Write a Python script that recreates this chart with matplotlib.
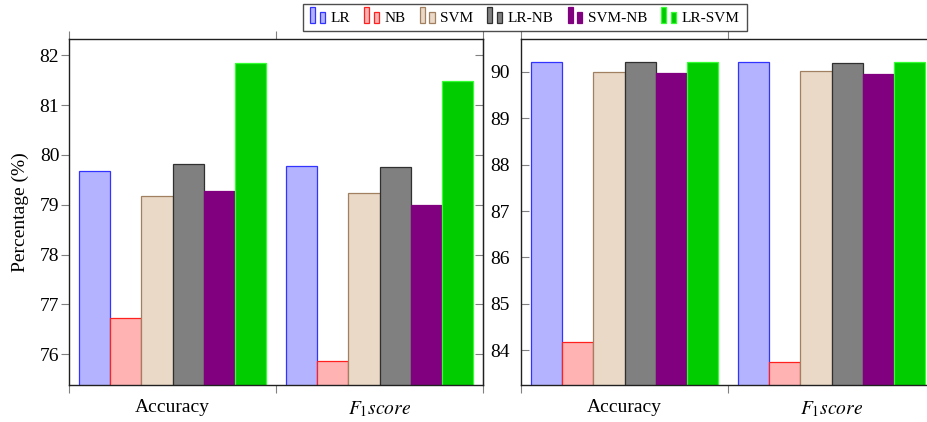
import numpy as np
import matplotlib
matplotlib.use('Agg')
import matplotlib.pyplot as plt
from matplotlib.patches import Rectangle
from matplotlib.legend_handler import HandlerBase

plt.rcParams['font.family'] = ['Liberation Serif', 'DejaVu Serif']
plt.rcParams['mathtext.fontset'] = 'stix'

# Categories and series values (left panel / right panel).
metrics = ['Accuracy', r'$F_1 score$']
methods = ['LR', 'NB', 'SVM', 'LR-NB', 'SVM-NB', 'LR-SVM']

lr_left = [79.67, 79.78]
nb_left = [76.72, 75.87]
svm_left = [79.17, 79.23]
lrnb_left = [79.81, 79.75]
svmnb_left = [79.27, 79.00]
lrsvm_left = [81.84, 81.49]

lr_right = [90.21, 90.21]
nb_right = [84.18, 83.74]
svm_right = [90.00, 90.01]
lrnb_right = [90.22, 90.20]
svmnb_right = [89.98, 89.96]
lrsvm_right = [90.22, 90.22]

left_ticks = [76, 77, 78, 79, 80, 81, 82]
right_ticks = [84, 85, 86, 87, 88, 89, 90]

# Fill and edge colors for every method.
fills = ['#b3b3ff', '#ffb3b3', '#ead9c6', '#808080', '#800080', '#00cc00']
edges = ['#3333ff', '#ff2020', '#a08060', '#303030', '#800080', '#33ff33']

barWidth = 0.15
fontSize = 14
tickColor = '#808080'


class TwoBarHandler(HandlerBase):
  # pgfplots style legend image: two small bars.
  def create_artists(self, legend, orig_handle, xdescent, ydescent, width,
                     height, fontsize, trans):
    patch = orig_handle.patches[0]
    fc = patch.get_facecolor()
    ec = patch.get_edgecolor()
    w = width * 0.3
    r1 = Rectangle((-xdescent, -ydescent - 0.15 * height), w, 1.5 * height,
                   facecolor=fc, edgecolor=ec, lw=0.9, transform=trans)
    r2 = Rectangle((-xdescent + width * 0.58, -ydescent - 0.15 * height), w,
                   1.05 * height, facecolor=fc, edgecolor=ec, lw=0.9,
                   transform=trans)
    return [r1, r2]


def DrawPanel(ax, series, ylim, yticks, rightTicks):
  x = np.arange(len(metrics))
  handles = []
  for i, values in enumerate(series):
    h = ax.bar(x + (i - 2.5) * barWidth, values, barWidth, color=fills[i],
               edgecolor=edges[i], linewidth=0.9, label=methods[i])
    handles.append(h)

  ax.set_xlim(-0.5, 1.5)
  ax.set_ylim(*ylim)
  ax.set_yticks(yticks)
  ax.set_yticklabels([str(t) for t in yticks], fontsize=fontSize)

  # Ticks at category borders, labels at the centers.
  ax.set_xticks([-0.5, 0.5, 1.5])
  ax.set_xticklabels(['', '', ''])
  ax.set_xticks(x, minor=True)
  ax.set_xticklabels(metrics, minor=True, fontsize=fontSize)
  ax.tick_params(axis='x', which='major', direction='out', length=6,
                 color=tickColor, top=True, bottom=True)
  ax.tick_params(axis='x', which='minor', length=0, pad=10)

  if rightTicks:
    ax.tick_params(axis='y', direction='out', length=6, color=tickColor,
                   pad=1)
    sec = ax.secondary_yaxis('right')
    sec.set_yticks(yticks)
    sec.tick_params(direction='in', length=6, color=tickColor,
                    labelright=False)
  else:
    ax.tick_params(axis='y', direction='in', length=6, color=tickColor,
                   pad=8)
    ax.spines['right'].set_visible(False)

  for s in ax.spines.values():
    s.set_linewidth(1.0)
    s.set_color('#202020')
  return handles


fig = plt.figure(figsize=(9.27, 4.22), dpi=100, facecolor='white')
W, H = 927.0, 422.0
axL = fig.add_axes([69 / W, 37 / H, 414 / W, 346 / H])
axR = fig.add_axes([521 / W, 37 / H, 414 / W, 346 / H])

handles = DrawPanel(axL, [lr_left, nb_left, svm_left, lrnb_left, svmnb_left,
                          lrsvm_left], (75.38, 82.33), left_ticks, True)
DrawPanel(axR, [lr_right, nb_right, svm_right, lrnb_right, svmnb_right,
                lrsvm_right], (83.25, 90.71), right_ticks, False)

axL.set_ylabel('Percentage (%)', fontsize=fontSize, labelpad=8)

# Legend above both panels.
lgd = fig.legend(handles, methods, loc='upper center',
                 bbox_to_anchor=(525 / W, 1 - 4 / H), ncol=6, fontsize=11,
                 frameon=True, fancybox=False, borderaxespad=0,
                 handlelength=1.1, handletextpad=0.25, columnspacing=0.9,
                 borderpad=0.45,
                 handler_map={matplotlib.container.BarContainer:
                              TwoBarHandler()})
lgd.get_frame().set_edgecolor('#202020')
lgd.get_frame().set_linewidth(1.0)

fig.savefig('out.png', dpi=100, facecolor=fig.get_facecolor())
